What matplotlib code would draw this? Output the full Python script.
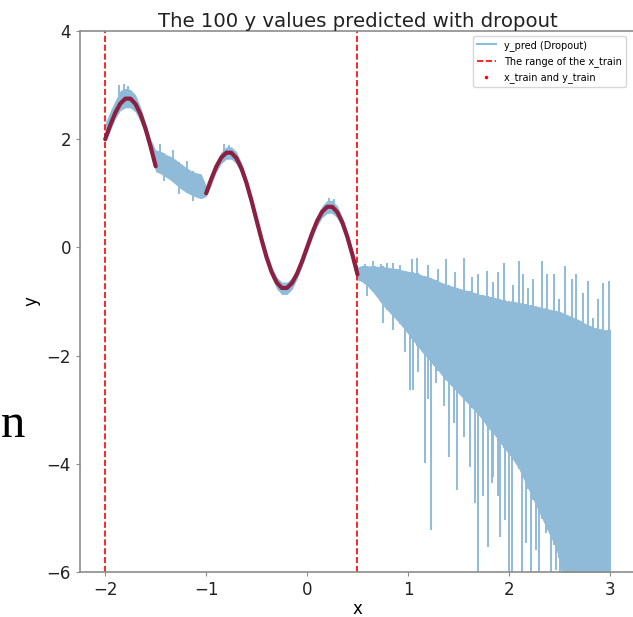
import numpy as np
import matplotlib.pyplot as plt
from matplotlib.lines import Line2D

# training data
x_train_a = [-2.00, -1.95, -1.90, -1.85, -1.80, -1.75, -1.70, -1.65, -1.60, -1.55, -1.50]
y_train_a = [2.00, 2.26, 2.49, 2.66, 2.75, 2.75, 2.65, 2.46, 2.19, 1.86, 1.50]
x_train_b = [-1.00, -0.95, -0.90, -0.85, -0.80, -0.75, -0.70, -0.65, -0.60, -0.55,
             -0.50, -0.45, -0.40, -0.35, -0.30, -0.25, -0.20, -0.15, -0.10, -0.05,
             0.00, 0.05, 0.10, 0.15, 0.20, 0.25, 0.30, 0.35, 0.40, 0.45, 0.50]
y_train_b = [1.00, 1.26, 1.49, 1.66, 1.75, 1.75, 1.65, 1.46, 1.19, 0.86,
             0.50, 0.14, -0.19, -0.46, -0.65, -0.75, -0.75, -0.66, -0.49, -0.26,
             0.00, 0.26, 0.49, 0.66, 0.75, 0.75, 0.65, 0.46, 0.19, -0.14, -0.50]

# dropout predictions: dense band of the noisy line, x from -2 to 3 in steps of 0.05
x_pred = np.round(np.arange(-2.0, 3.0001, 0.05), 2)
pred_hi = [2.30, 2.52, 2.72, 2.90, 2.94, 2.92, 2.82, 2.60, 2.30, 2.00,
           1.80, 1.78, 1.72, 1.68, 1.62, 1.55, 1.48, 1.42, 1.38, 1.36,
           1.14, 1.37, 1.59, 1.77, 1.86, 1.86, 1.77, 1.57, 1.29, 0.96,
           0.60, 0.24, -0.09, -0.36, -0.55, -0.64, -0.64, -0.56, -0.39, -0.16,
           0.10, 0.36, 0.59, 0.77, 0.87, 0.87, 0.77, 0.56, 0.29, -0.04,
           -0.36, -0.33, -0.34, -0.34, -0.35, -0.35, -0.37, -0.38, -0.40, -0.42,
           -0.44, -0.46, -0.48, -0.52, -0.54, -0.58, -0.62, -0.66, -0.70, -0.72,
           -0.75, -0.78, -0.80, -0.83, -0.86, -0.88, -0.90, -0.92, -0.95, -0.97,
           -1.00, -1.00, -1.02, -1.04, -1.06, -1.08, -1.10, -1.12, -1.14, -1.16,
           -1.18, -1.22, -1.26, -1.30, -1.34, -1.40, -1.44, -1.48, -1.50, -1.52,
           -1.52]
pred_lo = [1.96, 2.16, 2.38, 2.53, 2.58, 2.58, 2.50, 2.31, 2.06, 1.76,
           1.40, 1.36, 1.30, 1.24, 1.16, 1.08, 1.02, 0.97, 0.93, 0.90,
           0.94, 1.15, 1.39, 1.55, 1.63, 1.63, 1.54, 1.35, 1.09, 0.76,
           0.40, 0.04, -0.29, -0.56, -0.77, -0.87, -0.87, -0.78, -0.59, -0.36,
           -0.10, 0.16, 0.39, 0.55, 0.63, 0.63, 0.54, 0.36, 0.09, -0.24,
           -0.60, -0.64, -0.72, -0.82, -0.94, -1.07, -1.17, -1.27, -1.37, -1.48,
           -1.60, -1.72, -1.84, -1.96, -2.06, -2.18, -2.28, -2.40, -2.50, -2.60,
           -2.70, -2.80, -2.90, -3.00, -3.10, -3.22, -3.35, -3.45, -3.58, -3.70,
           -3.82, -3.95, -4.10, -4.30, -4.50, -4.70, -4.90, -5.10, -5.30, -5.50,
           -5.75, -6.50, -6.50, -6.50, -6.50, -6.50, -6.50, -6.50, -6.50, -6.50,
           -6.50]

# single spikes of the noisy line (downward tips, upward tips)
spike_down_x = [-1.42, -1.27, -1.13,
                0.59, 0.67, 0.75, 0.85, 0.90, 0.97, 1.02, 1.05, 1.10, 1.17, 1.20,
                1.23, 1.28, 1.36, 1.41, 1.46, 1.49, 1.56, 1.61, 1.66, 1.69, 1.74,
                1.79, 1.83, 1.84, 1.89, 1.91, 1.96, 2.00, 2.03, 2.06, 2.13, 2.17,
                2.22, 2.27, 2.30, 2.37, 2.42, 2.47, 2.51, 3.00]
spike_down_y = [1.22, 0.98, 0.86,
                -0.90, -0.83, -1.39, -1.52, -1.28, -1.94, -2.63, -2.63, -2.31, -3.98, -2.81,
                -5.22, -2.50, -2.94, -3.87, -3.24, -4.48, -3.50, -4.06, -4.72, -6.50, -4.60,
                -5.54, -4.35, -4.24, -4.60, -5.35, -5.04, -6.50, -6.50, -3.80, -6.50, -5.46,
                -6.50, -5.60, -6.50, -5.28, -6.50, -5.96, -6.50, -6.50]
spike_up_x = [-1.86, -1.81, -1.77, -1.46, -1.33, -1.19,
              -0.82, -0.77, 0.22, 0.27,
              0.57, 0.65, 0.73, 0.79, 0.85, 0.92, 1.04, 1.09, 1.20, 1.30, 1.38, 1.47, 1.56,
              1.63, 1.69, 1.78, 1.84, 1.89, 1.95, 2.04, 2.10, 2.14, 2.19, 2.24, 2.33, 2.38,
              2.45, 2.50, 2.56, 2.63, 2.67, 2.73, 2.78, 2.83, 2.88, 2.93, 2.99]
spike_up_y = [3.00, 3.02, 2.98, 1.92, 1.80, 1.60,
              1.92, 1.90, 0.92, 0.90,
              -0.31, -0.26, -0.31, -0.28, -0.28, -0.33, -0.22, -0.19, -0.33, -0.40, -0.22, -0.45, -0.19,
              -0.55, -0.50, -0.44, -0.64, -0.46, -0.28, -0.70, -0.26, -0.50, -0.75, -0.58, -0.26, -0.50,
              -0.50, -0.96, -0.35, -0.58, -0.50, -0.85, -0.63, -1.30, -0.95, -0.66, -0.63]

range_lines = [-2.0, 0.5]

blue = '#8fbbd9'
maroon = '#8c2040'

fig = plt.figure(figsize=(6.33, 6.17), dpi=100)
ax = fig.add_axes([80 / 633, 45 / 617, 555 / 633, 541 / 617])

ax.fill_between(x_pred, pred_lo, pred_hi, color=blue, lw=0)
top_at_down = np.interp(spike_down_x, x_pred, pred_hi)
ax.vlines(spike_down_x, spike_down_y, top_at_down, color=blue, lw=1.4)
bot_at_up = np.interp(spike_up_x, x_pred, pred_lo)
ax.vlines(spike_up_x, bot_at_up, spike_up_y, color=blue, lw=1.4)

for xv in range_lines:
    ax.axvline(xv, color='red', ls='--', lw=1.2)

ax.plot(x_train_a, y_train_a, color=maroon, lw=3.0, solid_capstyle='round')
ax.plot(x_train_b, y_train_b, color=maroon, lw=3.0, solid_capstyle='round')

ax.set_xlim(-2.25, 3.25)
ax.set_ylim(-6, 4)
ax.set_xticks([-2, -1, 0, 1, 2, 3])
ax.set_yticks([-6, -4, -2, 0, 2, 4])
ax.tick_params(labelsize=12, color='0.55', length=3, labelcolor='#222222')
for sp in ax.spines.values():
    sp.set_color('0.55')
    sp.set_linewidth(1.2)

ax.set_title('The 100 y values predicted with dropout', fontsize=14.2, color='#222222', pad=3)
ax.set_xlabel('x', fontsize=12, labelpad=1)
ax.set_ylabel('y', fontsize=12)

handles = [
    Line2D([], [], color=blue, lw=1.5, label='y_pred (Dropout)'),
    Line2D([], [], color='red', ls='--', lw=1.2, label='The range of the x_train'),
    Line2D([], [], color='red', marker='.', ls='', ms=3, label='x_train and y_train'),
]
ax.legend(handles=handles, loc='upper right', fontsize=7, labelspacing=0.55,
          bbox_to_anchor=(0.992, 1.0))

# stray letter from the surrounding page
fig.text(1 / 633, (617 - 437) / 617, 'n', fontsize=35, family='Liberation Serif',
         ha='left', va='baseline')

fig.savefig('out.png', dpi=100)
